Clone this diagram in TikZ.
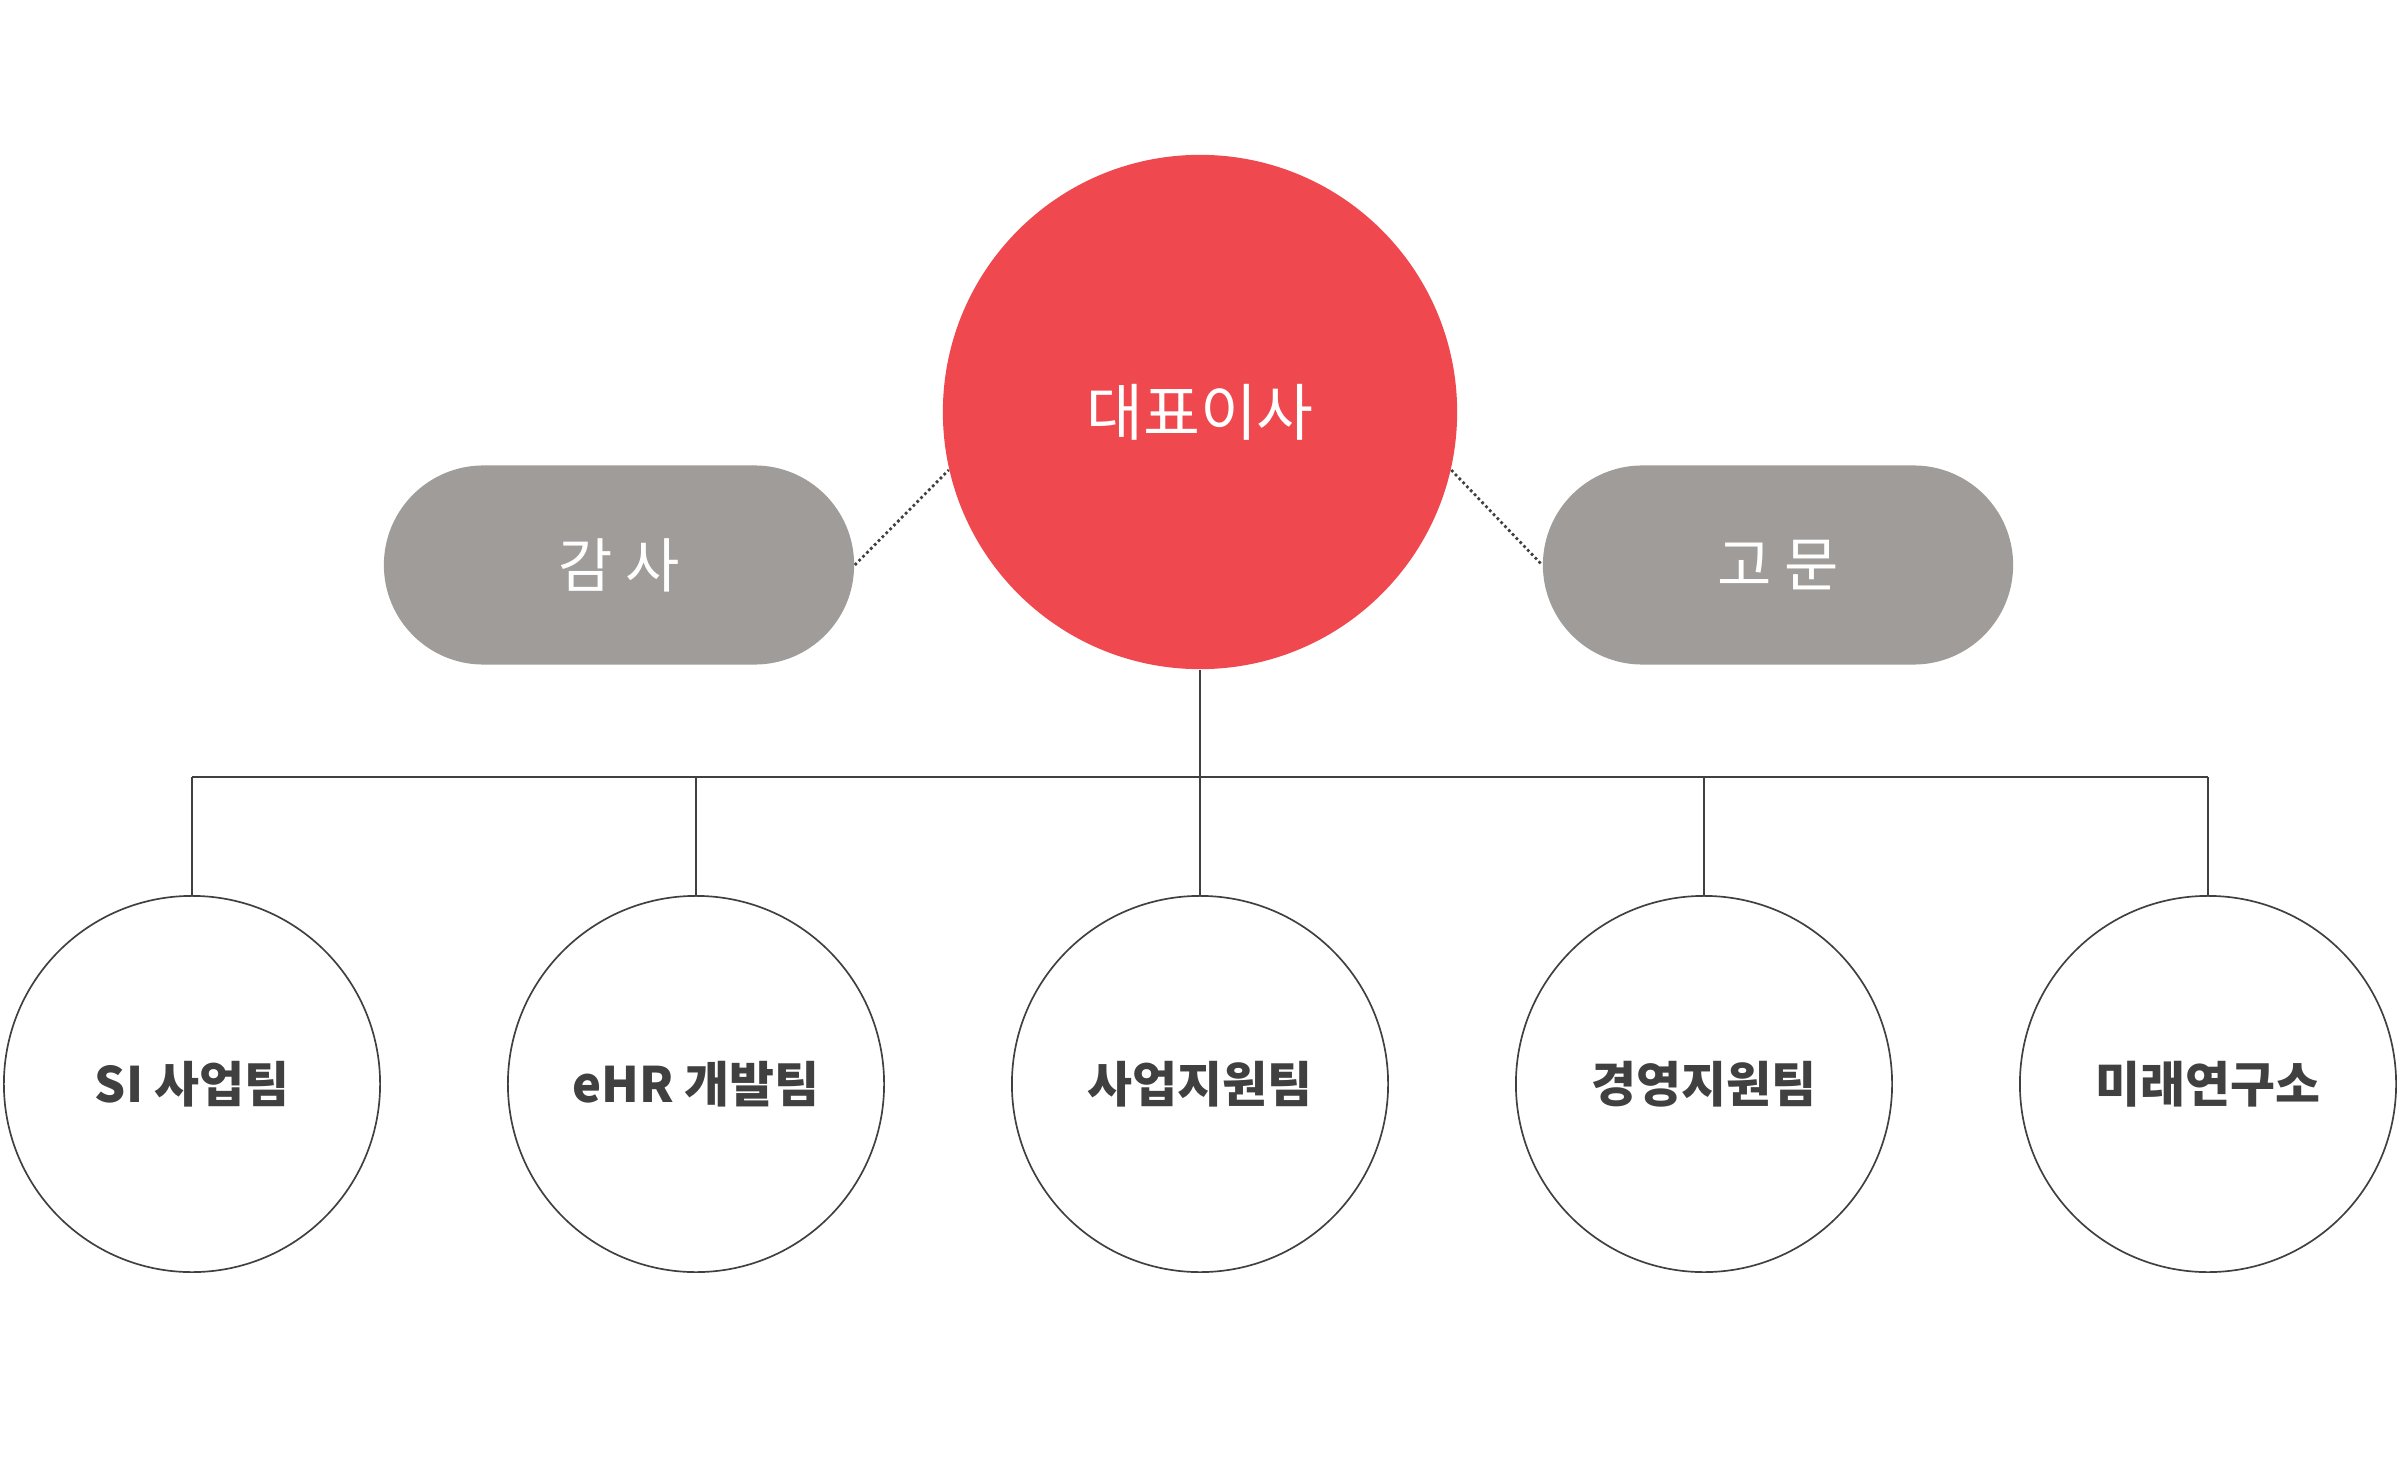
\documentclass[tikz,border=0pt]{standalone}
\usepackage{fontspec}
\usepackage{tikz}
\usetikzlibrary{
  positioning,
  shapes.misc,
}
\newfontfamily\krfont{Noto Sans CJK KR}
\definecolor{ceored}{HTML}{F0484F}
\definecolor{pillgray}{HTML}{A09C9A}
\definecolor{linegray}{HTML}{404040}

\begin{document}
\begin{tikzpicture}[
    x=0.01cm, y=-0.01cm,
    ceo/.style={circle, fill=ceored, minimum size=5.14cm, inner sep=0pt,
                text=white, font=\krfont\fontsize{17.6pt}{20pt}\selectfont},
    pill/.style={rounded rectangle, fill=pillgray, minimum width=4.7cm,
                 minimum height=1.99cm, inner sep=0pt, text=white,
                 font=\krfont\fontsize{16.8pt}{20pt}\selectfont},
    team/.style={circle, draw=linegray, line width=0.48pt, minimum size=3.76cm,
                 inner sep=0pt, text=linegray,
                 font=\krfont\bfseries\fontsize{13.9pt}{16pt}\selectfont},
    dotline/.style={draw=linegray, line width=0.77pt,
                    dash pattern=on 0.027cm off 0.028cm},
    orgline/.style={draw=linegray, line width=0.5pt},
  ]
  \useasboundingbox (0,0) rectangle (2400,1470);

  \node[ceo] (boss) at (1200,412) {대표이사};
  \node[pill] (audit) at (619,565) {감 사};
  \node[pill] (advisor) at (1778,565) {고 문};

  \draw[dotline] (audit.east) -- (boss.193);
  \draw[dotline] (boss.347) -- (advisor.west);

  % teams
  \coordinate (bus) at (1203,777);
  \foreach \name/\label [count=\i from 0] in
      {si/SI 사업팀, ehr/eHR 개발팀, biz/사업지원팀, mgmt/경영지원팀, lab/미래연구소} {
    \node[team] (\name) at (192+504*\i,1084) {\label};
    \draw[orgline] (\name.north) -- (\name.north |- bus);
  }
  \draw[orgline] (boss.south) -- (boss.south |- bus);
  \draw[orgline] (si.north |- bus) -- (lab.north |- bus);
\end{tikzpicture}
\end{document}
